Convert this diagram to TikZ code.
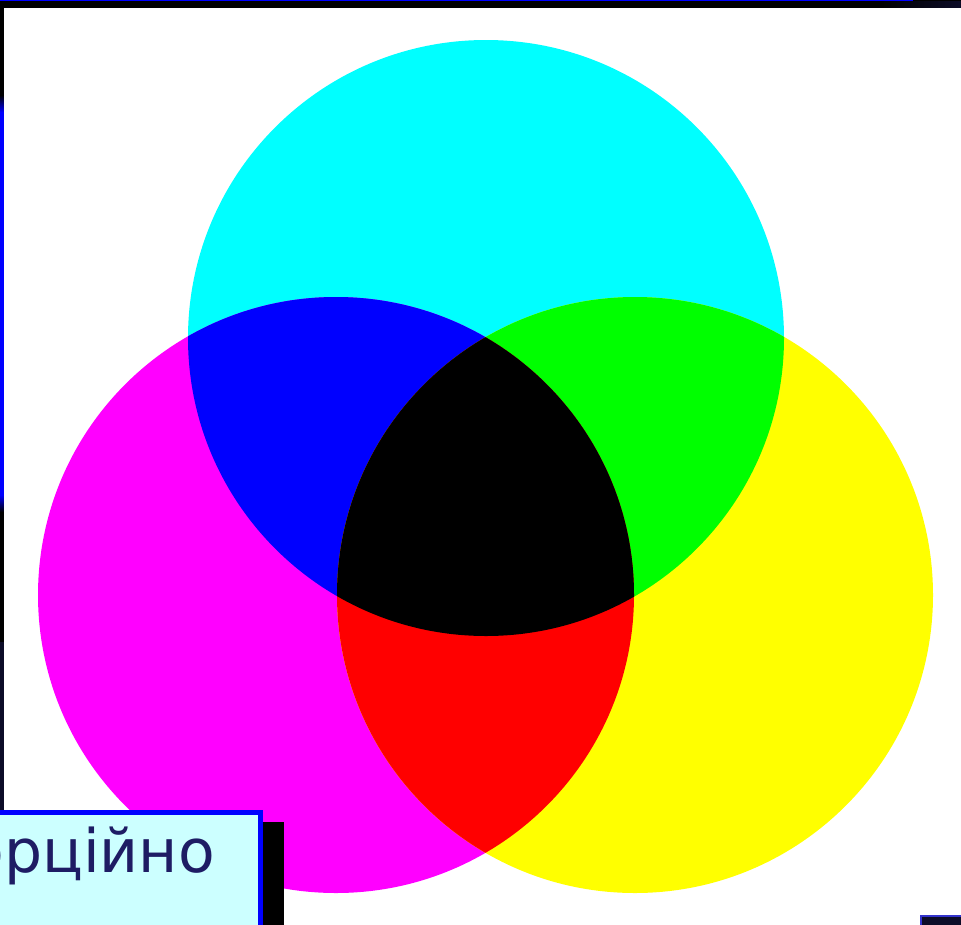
\documentclass[tikz,border=0pt]{standalone}
\usepackage{fontspec}
\newfontfamily\uafont{DejaVu Sans}
\definecolor{navyd}{RGB}{12,12,40}
\definecolor{frameblue}{RGB}{0,0,255}
\definecolor{boxfill}{RGB}{204,255,255}
\definecolor{textnavy}{RGB}{30,28,100}
\definecolor{smallborder}{RGB}{51,51,204}
\definecolor{cmyC}{RGB}{0,255,255}
\definecolor{cmyM}{RGB}{255,0,255}
\definecolor{cmyY}{RGB}{255,255,0}
\definecolor{mixB}{RGB}{0,0,255}
\definecolor{mixG}{RGB}{0,255,0}
\definecolor{mixR}{RGB}{255,0,0}
\tikzset{
  textbox/.style={draw=frameblue, line width=5pt, fill=boxfill, rectangle, inner sep=0pt},
  labeltext/.style={font=\uafont\fontsize{60}{72}\selectfont, text=textnavy, inner sep=0pt},
  smallbox/.style={draw=smallborder, line width=2pt, fill=navyd, rectangle, inner sep=0pt}
}
\begin{document}
\begin{tikzpicture}[x=1pt,y=-1pt]
\useasboundingbox (0,0) rectangle (961,924);
\clip (0,0) rectangle (961,924);
% dark frame
\fill[black] (0,0) rectangle (961,924);
\fill[navyd] (0,642) rectangle (4,924);
\shade[top color=black, bottom color=frameblue] (0,95) rectangle (4,112);
\fill[frameblue] (0,112) rectangle (4,495);
\shade[top color=frameblue, bottom color=black] (0,495) rectangle (4,512);
\fill[frameblue] (0,0) rectangle (913,1.3);
\shade[left color=black, right color=navyd] (880,1) rectangle (961,8);
% white slide area
\fill[white] (4,8) rectangle (961,924);
% circles
\coordinate (C) at (486,338);
\coordinate (M) at (336,595);
\coordinate (Y) at (635,595);
\def\rr{298}
\fill[cmyC] (C) circle[radius=\rr];
\fill[cmyM] (M) circle[radius=\rr];
\fill[cmyY] (Y) circle[radius=\rr];
\begin{scope}
  \clip (C) circle[radius=\rr];
  \fill[mixB] (M) circle[radius=\rr];
  \fill[mixG] (Y) circle[radius=\rr];
\end{scope}
\begin{scope}
  \clip (M) circle[radius=\rr];
  \fill[mixR] (Y) circle[radius=\rr];
  \clip (C) circle[radius=\rr];
  \fill[black] (Y) circle[radius=\rr];
\end{scope}
% text box with shadow
\fill[black] (10,822) rectangle (284,940);
\node[textbox, minimum width=275pt, minimum height=130pt, anchor=north east] (tb) at (262.5,809.5) {};
\node[labeltext, anchor=base east] (lbl) at (215,872) {орційно};
% small box bottom right
\node[smallbox, minimum width=50pt, minimum height=20pt, anchor=north west] (sb) at (920,915) {};
\end{tikzpicture}
\end{document}
